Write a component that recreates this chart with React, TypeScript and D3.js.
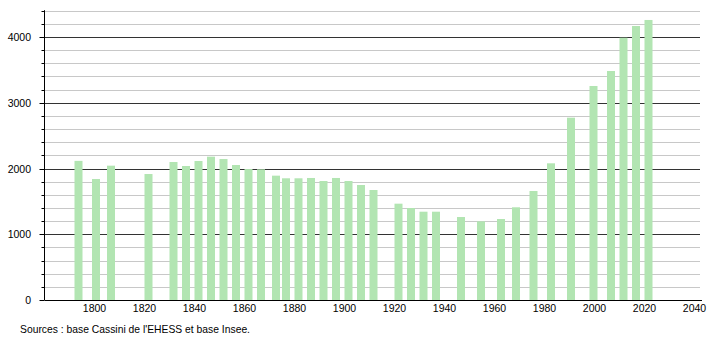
import React from "react";
import * as d3 from "d3";

const years = [1793,1800,1806,1821,1831,1836,1841,1846,1851,1856,1861,1866,1872,1876,1881,1886,1891,1896,1901,1906,1911,1921,1926,1931,1936,1946,1954,1962,1968,1975,1982,1990,1999,2006,2011,2016,2021];
const population = [2116,1840,2043,1916,2099,2038,2114,2180,2144,2053,1992,1988,1891,1851,1851,1856,1810,1856,1810,1749,1673,1465,1399,1343,1343,1262,1196,1232,1410,1658,2079,2773,3255,3483,3989,4167,4259];
const xTicks = [1800,1820,1840,1860,1880,1900,1920,1940,1960,1980,2000,2020,2040];
const yMajor = [0,1000,2000,3000,4000];
const yMinor = d3.range(0, 4401, 200);
const source = "Sources : base Cassini de l'EHESS et base Insee.";

const W = 710, H = 340;
const left = 44.5, right = 700, top = 10.7, bottom = 300;

export default function App() {
  const x = d3.scaleLinear().domain([1780, 2042.2]).range([left, right]);
  const y = d3.scaleLinear().domain([0, 4400]).range([bottom, top]);
  const font = "'Liberation Sans', Arial, sans-serif";
  return (
    <svg width={W} height={H} style={{ position: "absolute", left: 0, top: 0, background: "#fff" }} fontFamily={font}>
      {yMinor.filter(v => v % 1000 !== 0).map(v => (
        <line key={"m" + v} x1={left} x2={right} y1={Math.round(y(v)) + 0.5} y2={Math.round(y(v)) + 0.5} stroke="#c8c8c8" strokeWidth={1} />
      ))}
      {yMajor.filter(v => v > 0).map(v => (
        <line key={"M" + v} x1={left} x2={right} y1={Math.round(y(v)) + 0.5} y2={Math.round(y(v)) + 0.5} stroke="#333" strokeWidth={1} />
      ))}
      {years.map((yr, i) => (
        <rect key={yr} x={x(yr) - 2.5} width={8} y={y(population[i])} height={bottom - y(population[i])} fill="#b2e5b2" />
      ))}
      {yMinor.map(v => (
        <line key={"t" + v} x1={v % 1000 === 0 ? left - 5 : left - 3} x2={left} y1={Math.round(y(v)) + 0.5} y2={Math.round(y(v)) + 0.5} stroke="#000" strokeWidth={1} />
      ))}
      <line x1={left} x2={left} y1={top - 0.5} y2={bottom} stroke="#000" strokeWidth={1} />
      <line x1={left} x2={right + 2} y1={bottom + 0.5} y2={bottom + 0.5} stroke="#000" strokeWidth={1} />
      {yMajor.map(v => (
        <text key={"yl" + v} x={31} y={y(v) + 4} textAnchor="end" fontSize={10.5} fill="#000">{v}</text>
      ))}
      {xTicks.map(t => (
        <text key={"xl" + t} x={x(t)} y={312} textAnchor="middle" fontSize={10.5} fill="#000">{t}</text>
      ))}
      <text x={20} y={333} fontSize={10.5} textLength={230} lengthAdjust="spacingAndGlyphs" fill="#000">{source}</text>
    </svg>
  );
}
